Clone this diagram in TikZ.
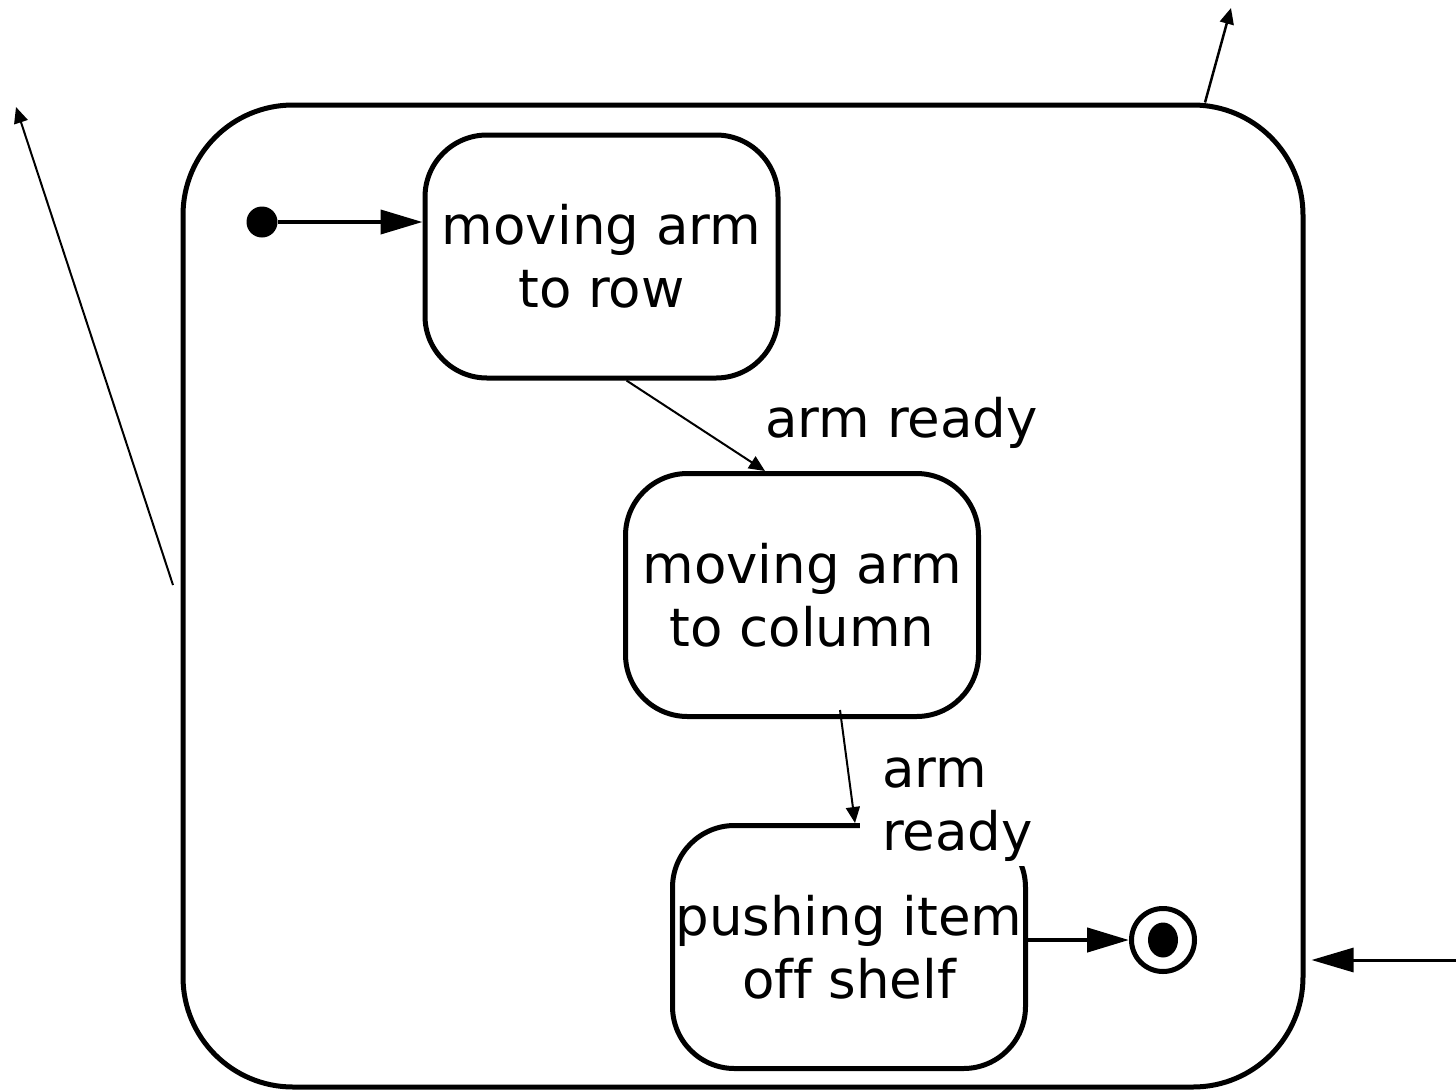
\documentclass[tikz,border=0pt]{standalone}
\usepackage{fontspec}
\setmainfont{DejaVu Sans}[Ligatures=NoCommon]
\usetikzlibrary{arrows.meta}
\begin{document}
\begin{tikzpicture}[x=1pt,y=-1pt,
  every node/.style={font=\fontsize{53}{63}\selectfont},
  statebox/.style={draw, line width=5pt, rounded corners=62pt,
    minimum width=353pt, minimum height=243pt, align=center, inner sep=0pt},
  superstate/.style={draw, line width=5pt, rounded corners=110pt,
    minimum width=1120pt, minimum height=982pt, inner sep=0pt},
  lbl/.style={align=left, inner sep=0pt},
  bigtip/.style={-{Triangle[length=42pt,width=24pt]}},
  smalltip/.style={-{Triangle[length=16pt,width=14pt]}}
]
\useasboundingbox (0,0) rectangle (1456,1090);

% composite state
\node[superstate] (outer) at (743,596) {};

% substates
\node[statebox] (row) at (601.5,256.5) {moving arm\\to row};
\node[statebox] (col) at (802,595) {moving arm\\to column};
\node[statebox] (push) at (849,947) {pushing item\\off shelf};

% pseudo states
\node[circle, fill=black, inner sep=0pt, minimum size=31pt] (init) at (262,222) {};
\node[circle, draw, line width=5pt, inner sep=0pt, minimum size=63pt] (final) at (1163,940) {};
\fill (1163,940) ellipse [x radius=15pt, y radius=17.5pt];

% transitions inside
\draw[bigtip, line width=4pt] (init) -- (row.west |- init);
\draw[smalltip, line width=2pt] ([xshift=25pt]row.south) -- ([xshift=-37pt]col.north);
\node[lbl, anchor=west] (l1) at (765,423) {arm ready};
\draw[smalltip, line width=2pt] ([xshift=38pt,yshift=9pt]col.south) -- ([xshift=6pt]push.north);
\node[lbl, fill=white, inner xsep=22pt, inner ysep=4pt, anchor=south west] (l2) at (860,866) {arm\\ready};
\draw[bigtip, line width=4.5pt] (push.east |- final) -- (final.west);

% transitions crossing the boundary
\coordinate (topend) at (1231,8);
\draw[smalltip, line width=2.5pt] ([xshift=462pt]outer.north) -- (topend);
\coordinate (lstart) at (173,585);
\coordinate (lend) at (16,107);
\draw[smalltip, line width=2pt] (lstart) -- (lend);
\coordinate (rstart) at (1456,960);
\draw[bigtip, line width=3pt] (rstart) -- ([xshift=6pt,yshift=-364pt]outer.east);
\end{tikzpicture}
\end{document}
